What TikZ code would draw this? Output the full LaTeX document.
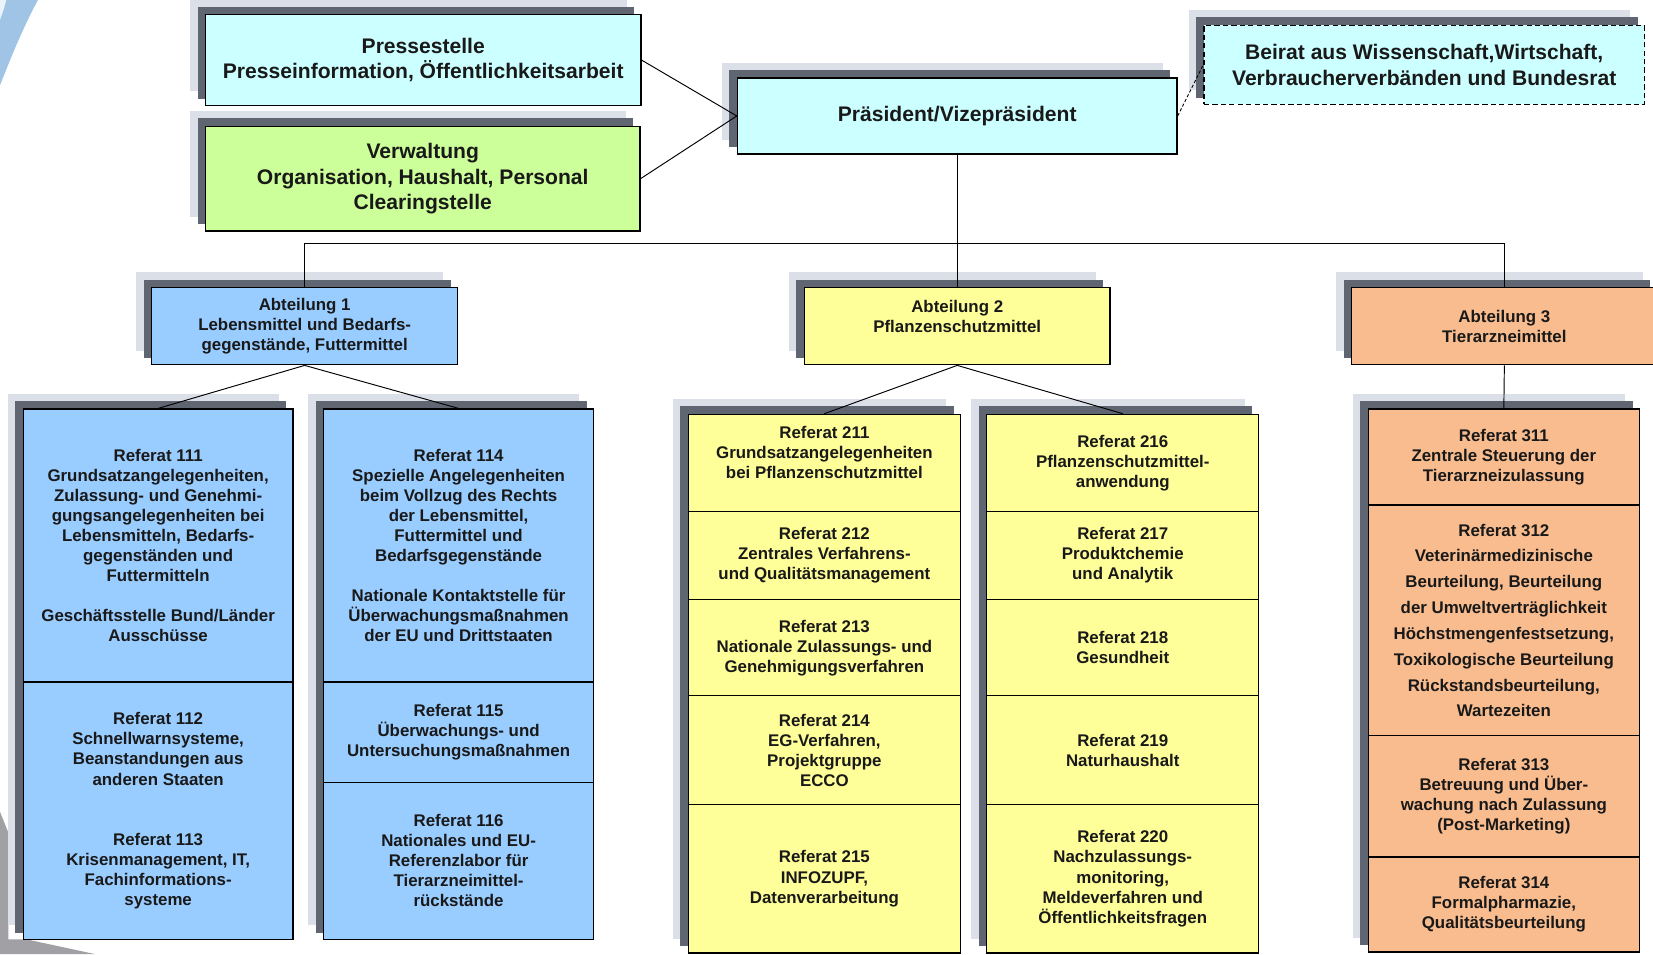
\documentclass[tikz,border=0pt]{standalone}
\usepackage{fontspec}
\setmainfont{Liberation Sans}
\usetikzlibrary{calc}
\usetikzlibrary{backgrounds}
\tikzset{>=latex}
\definecolor{boxcyan}{RGB}{204,255,255}
\definecolor{boxgreen}{RGB}{204,255,153}
\definecolor{boxblue}{RGB}{153,204,255}
\definecolor{boxyellow}{RGB}{255,255,153}
\definecolor{boxorange}{RGB}{248,188,143}
\definecolor{shadowdark}{RGB}{96,101,114}
\definecolor{shadowlight}{RGB}{219,223,232}
\definecolor{swooshblue}{RGB}{160,196,230}
\definecolor{swooshpale}{RGB}{236,243,250}
\definecolor{swooshgray}{RGB}{160,160,165}
\definecolor{textdark}{RGB}{25,25,25}
\tikzstyle{orgbox}=[draw=black,line width=1.2pt,align=center,inner sep=0pt,text=textdark,font=\bfseries\fontsize{16}{19}\selectfont]
\tikzstyle{headbox}=[orgbox,font=\bfseries\fontsize{20}{24}\selectfont]
\tikzstyle{abtbox}=[orgbox,minimum width=290pt,minimum height=73pt]
\tikzstyle{colone}=[orgbox,fill=boxblue,minimum width=256pt]
\tikzstyle{coltwo}=[orgbox,fill=boxyellow,minimum width=258pt]
\tikzstyle{colthree}=[orgbox,fill=boxorange,minimum width=257pt]
\tikzstyle{connline}=[draw=black,line width=0.9pt]

\begin{document}
\begin{tikzpicture}[x=1pt,y=-1pt]
    \useasboundingbox (0,0) rectangle (1568,905);

    % Leitung
    \node[headbox,fill=boxcyan,minimum width=413pt,minimum height=86pt] (press) at (401.5,57) {Pressestelle\\Presseinformation, Öffentlichkeitsarbeit};
    \node[headbox,fill=boxgreen,minimum width=412pt,minimum height=99pt] (verw) at (401,169.5) {Verwaltung\\Organisation, Haushalt, Personal\\Clearingstelle};
    \node[headbox,fill=boxcyan,minimum width=417pt,minimum height=72pt] (pres) at (908,110) {Präsident/Vizepräsident};
    \node[headbox,fill=boxcyan,dash pattern=on 5pt off 3pt,minimum width=418pt,minimum height=75pt] (beirat) at (1351,61.5) {Beirat aus Wissenschaft,Wirtschaft,\\Verbraucherverbänden und Bundesrat};

    % Abteilungen
    \node[abtbox,fill=boxblue] (abt1) at (289,309.5) {Abteilung 1\\Lebensmittel und Bedarfs-\\gegenstände, Futtermittel};
    \node[abtbox,fill=boxyellow] (abt2) at (908,309.5) {Abteilung 2\\Pflanzenschutzmittel\\\mbox{}};
    \node[abtbox,fill=boxorange] (abt3) at (1427,309.5) {Abteilung 3\\Tierarzneimittel};

    % Abteilung 1
    \node[colone,minimum height=259pt] (r111) at (150,517.5) {Referat 111\\Grundsatzangelegenheiten,\\Zulassung- und Genehmi-\\gungsangelegenheiten bei\\Lebensmitteln, Bedarfs-\\gegenständen und\\Futtermitteln\\[19pt]Geschäftsstelle Bund/Länder\\Ausschüsse};
    \node[colone,minimum height=244pt] (r112) at (150,769) {Referat 112\\Schnellwarnsysteme,\\Beanstandungen aus\\anderen Staaten\\[38pt]Referat 113\\Krisenmanagement, IT,\\Fachinformations-\\systeme};
    \node[colone,minimum height=259pt] (r114) at (435,517.5) {Referat 114\\Spezielle Angelegenheiten\\beim Vollzug des Rechts\\der Lebensmittel,\\Futtermittel und\\Bedarfsgegenstände\\[19pt]Nationale Kontaktstelle für\\Überwachungsmaßnahmen\\der EU und Drittstaaten};
    \node[colone,minimum height=95pt] (r115) at (435,694.5) {Referat 115\\Überwachungs- und\\Untersuchungsmaßnahmen};
    \node[colone,minimum height=149pt] (r116) at (435,816.5) {Referat 116\\Nationales und EU-\\Referenzlabor für\\Tierarzneimittel-\\rückstände};

    % Abteilung 2
    \node[coltwo,minimum height=92pt] (r211) at (782,439) {Referat 211\\Grundsatzangelegenheiten\\bei Pflanzenschutzmittel\\\mbox{}};
    \node[coltwo,minimum height=84pt] (r212) at (782,527) {Referat 212\\Zentrales Verfahrens-\\und Qualitätsmanagement};
    \node[coltwo,minimum height=91pt] (r213) at (782,614.5) {Referat 213\\Nationale Zulassungs- und\\Genehmigungsverfahren};
    \node[coltwo,minimum height=103pt] (r214) at (782,711.5) {Referat 214\\EG-Verfahren,\\Projektgruppe\\ECCO};
    \node[coltwo,minimum height=141pt] (r215) at (782,833.5) {Referat 215\\INFOZUPF,\\Datenverarbeitung};
    \node[coltwo,minimum height=92pt] (r216) at (1065,439) {Referat 216\\Pflanzenschutzmittel-\\anwendung};
    \node[coltwo,minimum height=84pt] (r217) at (1065,527) {Referat 217\\Produktchemie\\und Analytik};
    \node[coltwo,minimum height=91pt] (r218) at (1065,614.5) {Referat 218\\Gesundheit};
    \node[coltwo,minimum height=103pt] (r219) at (1065,711.5) {Referat 219\\Naturhaushalt};
    \node[coltwo,minimum height=141pt] (r220) at (1065,833.5) {Referat 220\\Nachzulassungs-\\monitoring,\\Meldeverfahren und\\Öffentlichkeitsfragen};

    % Abteilung 3
    \node[colthree,minimum height=91pt] (r311) at (1426.5,433.5) {Referat 311\\Zentrale Steuerung der\\Tierarzneizulassung};
    \node[colthree,minimum height=219pt,font=\bfseries\fontsize{16}{24.5}\selectfont] (r312) at (1426.5,588.5) {Referat 312\\Veterinärmedizinische\\Beurteilung, Beurteilung\\der Umweltverträglichkeit\\Höchstmengenfestsetzung,\\Toxikologische Beurteilung\\Rückstandsbeurteilung,\\Wartezeiten};
    \node[colthree,minimum height=115pt] (r313) at (1426.5,755.5) {Referat 313\\Betreuung und Über-\\wachung nach Zulassung\\(Post-Marketing)};
    \node[colthree,minimum height=90pt] (r314) at (1426.5,858) {Referat 314\\Formalpharmazie,\\Qualitätsbeurteilung};

    % Verbindungen
    \coordinate (bus) at (908,231);
    \draw[connline] (press.east) -- (pres.west);
    \draw[connline] (verw.east) -- (pres.west);
    \draw[connline,dash pattern=on 3pt off 2pt] (pres.east) -- (beirat.west);
    \draw[connline] (pres.south) -- (abt2.north);
    \draw[connline] (abt1.north) |- (bus) -| (abt3.north);
    \draw[connline] (abt1.south) -- (r111.north);
    \draw[connline] (abt1.south) -- (r114.north);
    \draw[connline] (abt2.south) -- (r211.north);
    \draw[connline] (abt2.south) -- (r216.north);
    \draw[connline] (abt3.south) -- (r311.north);

    \begin{scope}[on background layer]
        \fill[white] (0,0) rectangle (1568,905);
        \fill[swooshpale] (0,0) -- (6,0) .. controls (4,8) .. (0,19) -- cycle;
        \fill[swooshblue] (6,0) .. controls (4,8) .. (0,19) -- (0,81) .. controls (12,50) and (24,22) .. (36,0) -- cycle;
        \fill[swooshgray] (0,770) -- (8,790) -- (8,891) -- (25,891) -- (90,905) -- (0,905) -- cycle;
        % Schatten
        \foreach \a/\b in {press/press,verw/verw,pres/pres,beirat/beirat,abt1/abt1,abt2/abt2,abt3/abt3,r111/r112,r114/r116,r211/r215,r216/r220,r311/r314} {
            \fill[shadowlight] ([shift={(-14,-14)}]\a.north west) rectangle ([shift={(-14,-14)}]\b.south east);
            \fill[shadowdark] ([shift={(-7,-7)}]\a.north west) rectangle ([shift={(-7,-7)}]\b.south east);
        }
    \end{scope}
\end{tikzpicture}
\end{document}
